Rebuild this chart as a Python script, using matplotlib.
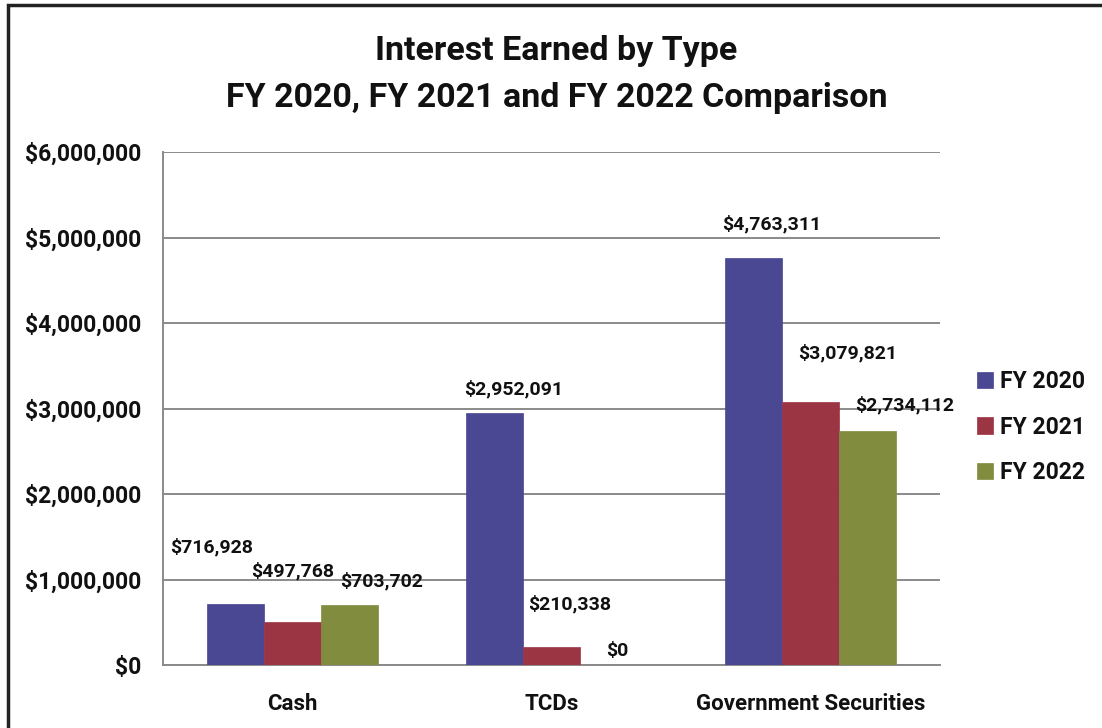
import matplotlib
matplotlib.use("Agg")
import matplotlib.pyplot as plt
from matplotlib.patches import Rectangle
from matplotlib.ticker import FuncFormatter
import numpy as np

plt.rcParams['font.family'] = ['Roboto', 'DejaVu Sans']

categories = ["Cash", "TCDs", "Government Securities"]
series = ["FY 2020", "FY 2021", "FY 2022"]
fy2020 = [716928, 2952091, 4763311]
fy2021 = [497768, 210338, 3079821]
fy2022 = [703702, 0, 2734112]
yticks = [0, 1000000, 2000000, 3000000, 4000000, 5000000, 6000000]
colors = ["#4a4793", "#9b3544", "#828c3e"]

# label offsets (points) relative to the top-centre of each bar
label_offsets = [
    [(-17, 41), (0, 37), (23, 17)],
    [(14, 17), (13, 31), (6, 10)],
    [(13, 24), (27, 35), (27, 19)],
]

fig = plt.figure(figsize=(11.02, 7.28), dpi=100)
ax = fig.add_axes([163 / 1102, 63 / 728, 777 / 1102, 513 / 728])

x = np.arange(len(categories))
width = 0.22
values = [fy2020, fy2021, fy2022]
for i, (name, vals, c) in enumerate(zip(series, values, colors)):
    bars = ax.bar(x + (i - 1) * width, vals, width, color=c, label=name,
                  zorder=3, edgecolor=c, linewidth=0.5)
    for j, b in enumerate(bars):
        dx, dy = label_offsets[j][i]
        ax.annotate(f"${vals[j]:,.0f}",
                    (b.get_x() + b.get_width() / 2, b.get_height()),
                    xytext=(dx, dy), textcoords="offset points",
                    ha="center", va="center", fontsize=14,
                    fontweight="bold", color="#111111", zorder=4)

ax.set_xlim(-0.5, 2.5)
ax.set_ylim(0, 6000000)
ax.set_yticks(yticks)
ax.yaxis.set_major_formatter(FuncFormatter(lambda v, p: f"${v:,.0f}"))
ax.set_xticks(x)
ax.set_xticklabels(categories)
ax.tick_params(axis="y", length=0, pad=16, labelsize=16.5)
ax.tick_params(axis="x", length=0, pad=20, labelsize=16)
for lab in ax.get_yticklabels() + ax.get_xticklabels():
    lab.set_fontweight("bold")
    lab.set_color("#111111")

ax.grid(axis="y", color="#8a8a8a", linewidth=1.4, zorder=0)
ax.set_axisbelow(True)
for s in ["top", "right"]:
    ax.spines[s].set_visible(False)
ax.spines["left"].set_color("#8a8a8a")
ax.spines["left"].set_linewidth(1.4)
ax.spines["bottom"].set_color("#8a8a8a")
ax.spines["bottom"].set_linewidth(1.4)

fig.text(0.505, 0.930, "Interest Earned by Type", ha="center", va="center",
         fontsize=24.5, fontweight="bold", color="#111111")
fig.text(0.505, 0.865, "FY 2020, FY 2021 and FY 2022 Comparison", ha="center",
         va="center", fontsize=24.5, fontweight="bold", color="#111111")

leg = fig.legend(loc="center left", bbox_to_anchor=(968 / 1102, 1 - 427 / 728),
                 frameon=False, fontsize=16.5, handlelength=0.7,
                 handleheight=0.7, handletextpad=0.3, labelspacing=1.0,
                 borderaxespad=0)
for t in leg.get_texts():
    t.set_fontweight("bold")
    t.set_color("#111111")

# outer chart border
fig.add_artist(Rectangle((8 / 1102, -0.02), 1.05, 1 - 5 / 728 + 0.02,
                         transform=fig.transFigure, fill=False,
                         edgecolor="#222222", linewidth=2.5))

fig.savefig("out.png", dpi=100)
